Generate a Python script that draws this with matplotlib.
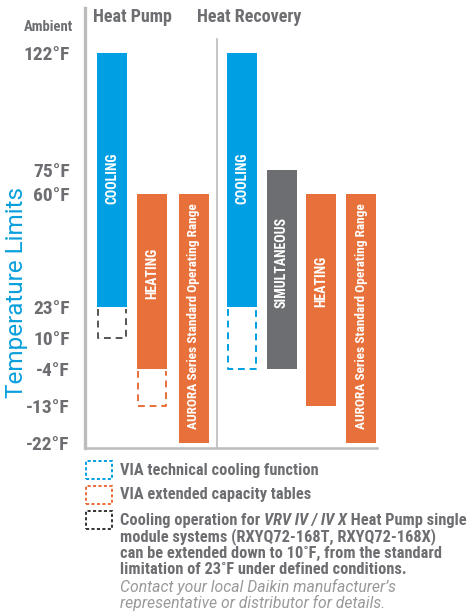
"""Operating temperature limits chart: Heat Pump vs Heat Recovery."""

import matplotlib
matplotlib.use("Agg")
import matplotlib.pyplot as plt
from matplotlib.patches import Rectangle
import numpy as np

W, H = 470, 616

NARROW = ["Roboto Condensed", "DejaVu Sans"]
GRAY_TEXT = "#6d6e71"
BLUE = "#009fe3"
ORANGE = "#e8703a"
DARK = "#6d6e71"
LINE = "#bcbcbc"

# --- data -----------------------------------------------------------------
tick_temps = [122, 75, 60, 23, 10, -4, -13, -22]
group_labels = ["Heat Pump", "Heat Recovery"]
bar_labels = ["COOLING", "HEATING", "AURORA Series Standard Operating Range",
              "COOLING", "SIMULTANEOUS", "HEATING",
              "AURORA Series Standard Operating Range"]
bar_top = [122, 60, 60, 122, 75, 60, 60]
bar_bottom = [23, -4, -22, 23, -4, -13, -22]
bar_kind = ["cool", "heat", "heat", "cool", "simul", "heat", "heat"]
ext_bottom = [10, -13, None, -4, None, None, None]
ext_kind = ["module", "capacity", None, "via", None, None, None]

legend_lines = [
    "VIA technical cooling function",
    "VIA extended capacity tables",
]
note_lines = [
    "module systems (RXYQ72-168T, RXYQ72-168X)",
    "can be extended down to 10˚F, from the standard",
    "limitation of 23˚F under defined conditions.",
]
contact_lines = [
    "Contact your local Daikin manufacturer’s",
    "representative or distributor for details.",
]

# --- layout (pixel rows of the non-linear temperature axis) ---------------
tick_rows = [53, 170, 194, 307, 338, 369, 406, 443]
bar_centers = [112, 152, 194, 242, 282, 321, 361]
bar_width = 30
label_rows = [178, 273, 316, 178, 262, 281, 316]
label_sizes = [10, 10, 9.6, 10, 10, 10, 9.6]
kind_color = {"cool": BLUE, "heat": ORANGE, "simul": DARK}
ext_color = {"module": "#555555", "capacity": ORANGE, "via": BLUE}

order = np.argsort(tick_temps)
temps_sorted = np.array(tick_temps)[order]
rows_sorted = np.array(tick_rows)[order]


def ypos(t):
    return np.interp(t, temps_sorted, rows_sorted)


def fx(px):
    return px / W


def fy(py):
    return 1 - py / H


fig = plt.figure(figsize=(W / 100, H / 100), dpi=100)
ax = fig.add_axes([fx(85), fy(448), (377 - 85) / W, (448 - 8) / H])
ax.set_xlim(85, 377)
ax.set_ylim(448, 8)

for s in ("top", "right"):
    ax.spines[s].set_visible(False)
ax.spines["left"].set_color(LINE)
ax.spines["left"].set_linewidth(2.4)
ax.spines["bottom"].set_color(LINE)
ax.spines["bottom"].set_linewidth(1.8)
ax.plot([217, 217], [39, 448], color=LINE, lw=1.2, zorder=1)

ax.set_xticks([])
ax.set_yticks(ypos(tick_temps))
ax.set_yticklabels([f"{t}°F" for t in tick_temps], family=NARROW,
                   fontweight="bold", fontsize=14, color=GRAY_TEXT)
ax.tick_params(axis="y", length=0, pad=11)

tops = ypos(bar_top)
bottoms = ypos(bar_bottom)
ax.bar(bar_centers, bottoms - tops, bottom=tops, width=bar_width,
       color=[kind_color[k] for k in bar_kind], zorder=3)

for cx, row, text, fs in zip(bar_centers, label_rows, bar_labels, label_sizes):
    ax.text(cx, row, text, rotation=90, ha="center", va="center",
            color="white", fontweight="bold", fontsize=fs, family=NARROW, zorder=4)

for cx, b, eb, ek in zip(bar_centers, bar_bottom, ext_bottom, ext_kind):
    if eb is None:
        continue
    y0, y1 = ypos(b) + 2, ypos(eb)
    hw = bar_width / 2 - 1
    ax.plot([cx - hw, cx - hw, cx + hw, cx + hw], [y0, y1, y1, y0],
            color=ext_color[ek], lw=1.4, ls=(0, (3.5, 2.5)), zorder=2)

# headings
fig.text(fx(73), fy(27), "Ambient", ha="right", va="center", family=NARROW,
         fontweight="bold", fontsize=10.5, color=GRAY_TEXT)
fig.text(fx(93), fy(17), group_labels[0], ha="left", va="center", family=NARROW,
         fontweight="bold", fontsize=13, color=GRAY_TEXT)
fig.text(fx(197), fy(17), group_labels[1], ha="left", va="center", family=NARROW,
         fontweight="bold", fontsize=13, color=GRAY_TEXT)
fig.text(fx(17), fy(292), "Temperature Limits", rotation=90, ha="center",
         va="center", fontsize=17.5, family=["Roboto", "DejaVu Sans"],
         fontweight="normal", color="#0a9fdc")

# legend
box_rows = [470, 495, 520]
box_colors = [BLUE, ORANGE, "#333333"]
for row, col in zip(box_rows, box_colors):
    fig.add_artist(Rectangle((fx(86), fy(row + 9)), 26 / W, 18 / H, fill=False,
                             edgecolor=col, lw=1.4, ls=(0, (1.6, 1.2)),
                             transform=fig.transFigure))

text_kw = dict(family=NARROW, fontweight="bold", fontsize=11.8, color=GRAY_TEXT,
               va="center", ha="left")
for row, line in zip(box_rows[:2], legend_lines):
    fig.text(fx(120), fy(row), line, **text_kw)

t1 = fig.text(fx(120), fy(521), "Cooling operation for ", **text_kw)
t2 = ax.annotate("VRV IV / IV X", xy=(1, 0), xycoords=t1, va="bottom",
                 ha="left", family=NARROW, fontweight="bold", style="italic",
                 fontsize=11.8, color=GRAY_TEXT, annotation_clip=False)
ax.annotate(" Heat Pump single", xy=(1, 0), xycoords=t2, va="bottom",
            ha="left", family=NARROW, fontweight="bold", fontsize=11.8,
            color=GRAY_TEXT, annotation_clip=False)
for i, line in enumerate(note_lines):
    fig.text(fx(120), fy(537 + i * 16), line, **text_kw)
for i, line in enumerate(contact_lines):
    fig.text(fx(120), fy(587 + i * 16), line, family=["Roboto", "DejaVu Sans"],
             style="italic", fontweight="normal", fontsize=11.3, color="#999999",
             va="center", ha="left")

fig.savefig("out.png", dpi=100, facecolor="white")
